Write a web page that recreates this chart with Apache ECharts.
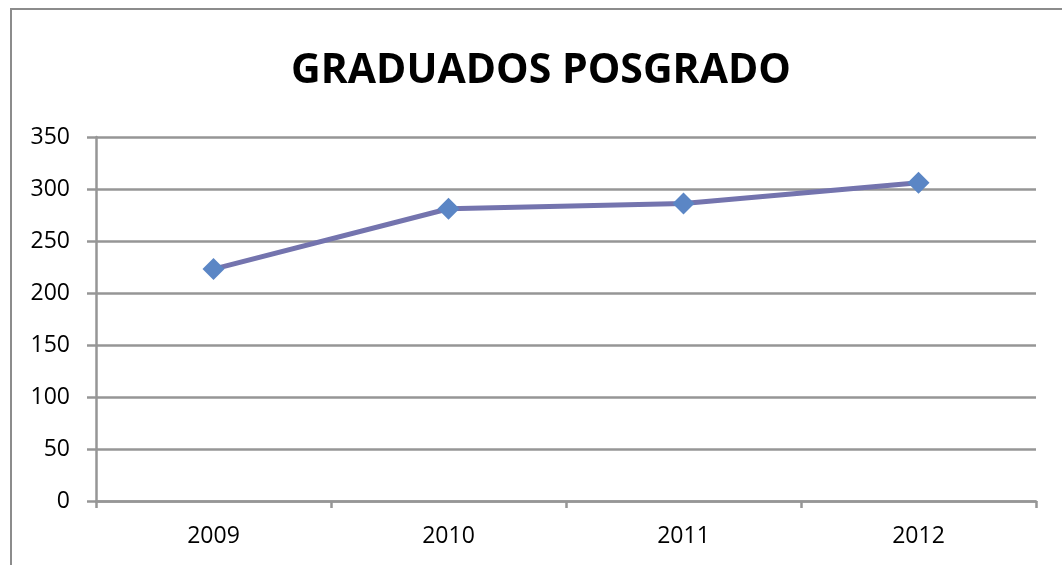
<!DOCTYPE html>
<html>
<head>
<meta charset="utf-8">
<script src="https://cdn.jsdelivr.net/npm/echarts@6/dist/echarts.min.js"></script>
<style>
  html, body { margin: 0; padding: 0; background: #fff; }
  #chart { width: 1062px; height: 565px; }
</style>
</head>
<body>
<div id="chart"></div>
<script>
const years = ['2009', '2010', '2011', '2012']
const graduados = [223, 281, 286, 306]
const yTicks = { min: 0, max: 350, interval: 50 }

const chart = echarts.init(document.getElementById('chart'))

chart.setOption({
  backgroundColor: '#ffffff',
  animation: false,
  graphic: [
    {
      type: 'rect',
      shape: { x: 11, y: 9, width: 1100, height: 600 },
      style: { fill: 'none', stroke: '#8c8c8c', lineWidth: 2 },
      silent: true
    },
    {
      type: 'text',
      x: 541,
      y: 71,
      style: {
        text: 'GRADUADOS POSGRADO',
        fontFamily: 'Open Sans',
        fontWeight: 'bold',
        fontSize: 41,
        fill: '#000',
        align: 'center',
        verticalAlign: 'middle'
      }
    }
  ],
  grid: {
    left: 96,
    right: 26,
    top: 137,
    bottom: 64
  },
  xAxis: {
    type: 'category',
    data: years,
    boundaryGap: true,
    axisLine: { lineStyle: { color: '#969696', width: 2.5 } },
    axisTick: { show: true, length: 7, lineStyle: { color: '#969696', width: 2.5 } },
    axisLabel: {
      margin: 24,
      color: '#000',
      fontFamily: 'Open Sans',
      fontSize: 23
    },
    splitLine: { show: false }
  },
  yAxis: {
    type: 'value',
    min: yTicks.min,
    max: yTicks.max,
    interval: yTicks.interval,
    axisLine: { show: true, lineStyle: { color: '#969696', width: 2.5 } },
    axisTick: { show: true, length: 9, lineStyle: { color: '#969696', width: 2.5 } },
    axisLabel: {
      margin: 26,
      color: '#000',
      fontFamily: 'Open Sans',
      fontSize: 23
    },
    splitLine: { lineStyle: { color: '#969696', width: 2.5 } }
  },
  series: [{
    name: 'Graduados',
    type: 'line',
    data: graduados,
    symbol: 'diamond',
    symbolSize: 22,
    lineStyle: { color: '#7474ae', width: 5 },
    itemStyle: { color: '#5b86c5', borderWidth: 0 }
  }]
})
</script>
</body>
</html>
